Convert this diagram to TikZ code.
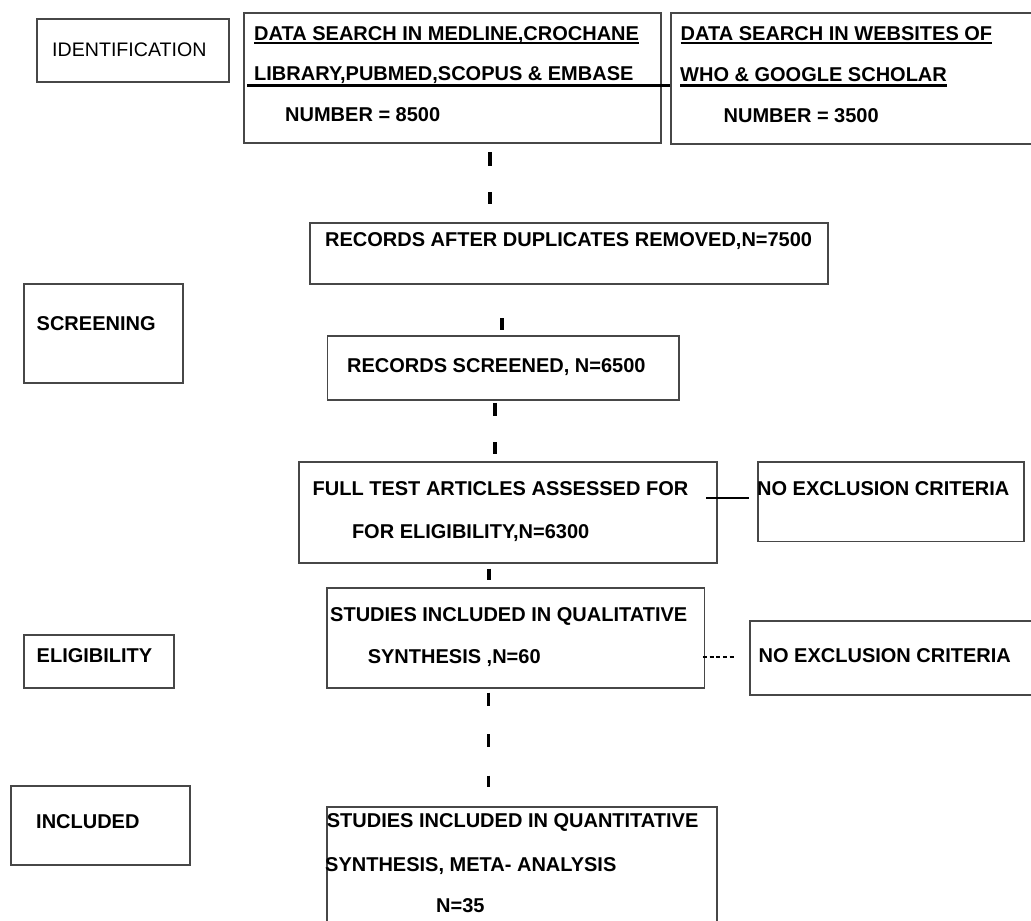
\documentclass[tikz,border=0pt]{standalone}
\usepackage{fontspec}
\setmainfont{Liberation Sans}
\usetikzlibrary{positioning}

\begin{document}
\begin{tikzpicture}[x=1pt, y=-1pt,
  box/.style={draw=black!72, line width=1.8pt, anchor=north west, inner sep=0pt},
  txt/.style={anchor=base west, inner sep=0pt, font=\fontsize{20}{24}\selectfont\bfseries},
  tickline/.style={line width=3.2pt},
  link/.style={line width=2pt},
  uline/.style={line width=2.2pt}]
  \useasboundingbox (0,0) rectangle (1031,921);
  \clip (0,0) rectangle (1031,921);
  % stage boxes on the left
  \node[box, minimum width=192pt, minimum height=63pt] (ident) at (36,18) {};
  \node[box, minimum width=159pt, minimum height=99pt] (screen) at (23,283) {};
  \node[box, minimum width=150pt, minimum height=53pt] (elig) at (23,634) {};
  \node[box, minimum width=179pt, minimum height=79pt] (incl) at (10,785) {};
  \node[txt, font=\fontsize{19.6}{24}\selectfont] (identT) at (52,56) {IDENTIFICATION};
  \node[txt] (screenT) at (36.5,330.7) {SCREENING};
  \node[txt] (eligT) at (36.5,662.7) {ELIGIBILITY};
  \node[txt] (inclT) at (36,828.3) {INCLUDED};
  % flow boxes
  \node[box, minimum width=417pt, minimum height=130.5pt] (dataA) at (243.3,11.7) {};
  \node[box, minimum width=375pt, minimum height=131pt] (dataB) at (670.3,11.8) {};
  \node[box, minimum width=518pt, minimum height=61.6pt] (dup) at (309,221.7) {};
  \node[box, minimum width=351.4pt, minimum height=64pt] (scr) at (326.6,335) {};
  \node[box, minimum width=418.2pt, minimum height=101pt] (full) at (297.8,460.7) {};
  \node[box, minimum width=266.3pt, minimum height=79.5pt] (excl1) at (757,461) {};
  \node[box, minimum width=377.1pt, minimum height=100pt] (qual) at (326.4,586.7) {};
  \node[box, minimum width=296pt, minimum height=74.3pt] (excl2) at (749,619.7) {};
  \node[box, minimum width=389.4pt, minimum height=134pt] (quant) at (326.3,806) {};
  % texts
  \node[txt] (a1) at (254,40) {DATA SEARCH IN MEDLINE,CROCHANE};
  \node[txt] (a2) at (254,80.5) {LIBRARY,PUBMED,SCOPUS \& EMBASE};
  \node[txt] (a3) at (285,121.7) {NUMBER = 8500};
  \node[txt] (b1) at (680.5,40.6) {DATA SEARCH IN WEBSITES OF};
  \node[txt] (b2) at (680,81) {WHO \& GOOGLE SCHOLAR};
  \node[txt] (b3) at (723.5,122.7) {NUMBER = 3500};
  \node[txt] (dupT) at (325,246.7) {RECORDS AFTER DUPLICATES REMOVED,N=7500};
  \node[txt] (scrT) at (347,372) {RECORDS SCREENED, N=6500};
  \node[txt] (full1) at (312.5,495) {FULL TEST ARTICLES ASSESSED FOR};
  \node[txt] (full2) at (351.8,538.3) {FOR ELIGIBILITY,N=6300};
  \node[txt] (excl1T) at (757,495) {NO EXCLUSION CRITERIA};
  \node[txt] (q1) at (330,621.7) {STUDIES INCLUDED IN QUALITATIVE};
  \node[txt] (q2) at (367.6,663.3) {SYNTHESIS ,N=60};
  \node[txt] (excl2T) at (758.5,662.7) {NO EXCLUSION CRITERIA};
  \node[txt] (n1) at (326.7,827.5) {STUDIES INCLUDED IN QUANTITATIVE};
  \node[txt] (n2) at (325,871) {SYNTHESIS, META- ANALYSIS};
  \node[txt] (n3) at (436,912.5) {N=35};
  % underlines
  \draw[uline] ([yshift=-2.8pt]a1.base west) -- ([yshift=-2.8pt]a1.base east);
  \draw[uline, shorten <=-7pt] ([yshift=-5pt]a2.base west) -- (dataB.west |- 0,85.5);
  \draw[uline] ([yshift=-2.6pt]b1.base west) -- ([yshift=-2.6pt]b1.base east);
  \draw[uline] ([yshift=-4.5pt]b2.base west) -- ([yshift=-4.5pt]b2.base east);
  % ticks between stages
  \draw[tickline, dash pattern=on 14pt off 26pt, shorten <=8pt, shorten >=18pt] (dataA.south -| 490,0) -- (dup.north -| 490,0);
  \draw[tickline, shorten <=33pt, shorten >=5pt] (dup.south -| 502,0) -- (scr.north -| 502,0);
  \draw[tickline, dash pattern=on 13pt off 26.5pt, shorten <=2pt, shorten >=7pt] (scr.south -| 495,0) -- (full.north -| 495,0);
  \draw[tickline, shorten <=5pt, shorten >=6.7pt] (full.south -| 489,0) -- (qual.north -| 489,0);
  \draw[tickline, dash pattern=on 13pt off 28.5pt, shorten <=4pt, shorten >=19.5pt] (qual.south -| 488.5,0) -- (quant.north -| 488.5,0);
  % side links
  \draw[link, shorten <=-11.6pt, shorten >=8pt] (full.east |- 0,498.3) -- (excl1.west |- 0,498.3);
  \draw[link, dash pattern=on 4pt off 2.7pt, shorten <=-2.5pt, shorten >=15.4pt] (qual.east |- 0,657.3) -- (excl2.west |- 0,657.3);
\end{tikzpicture}
\end{document}
